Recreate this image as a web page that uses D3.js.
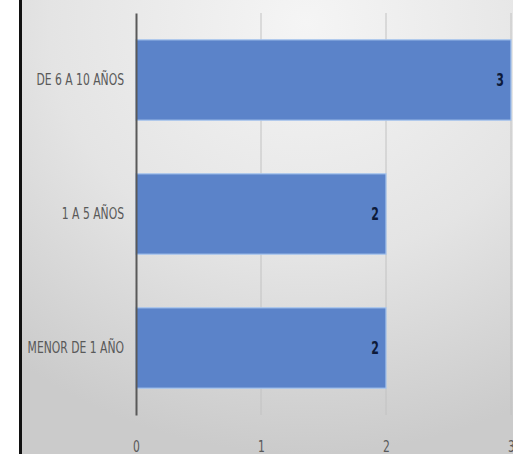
<!DOCTYPE html>
<html>
<head>
<meta charset="utf-8">
<script src="https://cdn.jsdelivr.net/npm/d3@7"></script>
<style>
  body { margin: 0; background: #fff; overflow: hidden; }
  text { font-family: "DejaVu Sans Condensed", "Liberation Sans", sans-serif; }
</style>
</head>
<body>
<svg width="513" height="454"></svg>
<script>
var categories = ["DE 6 A 10 AÑOS", "1 A 5 AÑOS", "MENOR DE 1 AÑO"];
var values = [3, 2, 2];
var xTicks = [0, 1, 2, 3];

var svg = d3.select("svg");
var margin = {"top": 13, "left": 136, "right": 2, "bottom": 39};
var width = +svg.attr("width") - margin.left - margin.right;
var height = +svg.attr("height") - margin.top - margin.bottom;
var squeeze = 0.8; // narrow text like the original's condensed font

// background gradient
var defs = svg.append("defs");
var grad = defs.append("radialGradient")
    .attr("id", "bg")
    .attr("cx", "0.58").attr("cy", "0.05").attr("r", "0.95");
grad.append("stop").attr("offset", "0").attr("stop-color", "#f5f5f5");
grad.append("stop").attr("offset", "0.55").attr("stop-color", "#e4e4e4");
grad.append("stop").attr("offset", "1").attr("stop-color", "#cbcbcb");

svg.append("rect")
    .attr("x", 21).attr("y", 0)
    .attr("width", 492).attr("height", 454)
    .attr("fill", "url(#bg)");
svg.append("rect")
    .attr("x", 19).attr("y", 0)
    .attr("width", 3).attr("height", 454)
    .attr("fill", "#111");

var x = d3.scaleLinear().domain([0, 3]).range([0, width]);
var y = d3.scaleBand().domain(categories).range([0, height])
    .paddingInner(0.4).paddingOuter(0.2);

var g = svg.append("g")
    .attr("transform", "translate(" + margin.left + "," + margin.top + ")");

// gridlines
g.selectAll(".grid").data(xTicks.slice(1))
  .enter().append("line")
    .attr("class", "grid")
    .attr("x1", function(d) { return x(d); })
    .attr("x2", function(d) { return x(d); })
    .attr("y1", 0).attr("y2", height)
    .attr("stroke", "#c2c2c2")
    .attr("stroke-width", 1);

// bars
g.selectAll(".bar").data(values)
  .enter().append("rect")
    .attr("class", "bar")
    .attr("x", 0)
    .attr("y", function(d, i) { return y(categories[i]); })
    .attr("width", function(d) { return x(d); })
    .attr("height", y.bandwidth())
    .attr("fill", "#5b83c9")
    .attr("stroke", "#a9c6ee")
    .attr("stroke-width", 1.2);

// value labels
g.selectAll(".val").data(values)
  .enter().append("g")
    .attr("transform", function(d, i) {
      return "translate(" + (x(d) - 7) + "," + (y(categories[i]) + y.bandwidth() / 2) + ")";
    })
  .append("text")
    .attr("class", "val")
    .attr("transform", "scale(0.72,1)")
    .attr("dy", "0.36em")
    .attr("text-anchor", "end")
    .attr("fill", "#0d1a3a")
    .attr("font-weight", "bold")
    .style("font-size", "17px")
    .text(function(d) { return d; });

// y axis
var yAxis = g.append("g")
    .call(d3.axisLeft(y).tickSize(0).tickPadding(12 / squeeze));
yAxis.select(".domain").attr("stroke", "#595959").attr("stroke-width", 2);
yAxis.selectAll("text")
    .attr("transform", "scale(" + squeeze + ",1)")
    .attr("fill", "#595959")
    .style("font-size", "15px");

// x axis
var xAxis = g.append("g")
    .attr("transform", "translate(0," + height + ")")
    .call(d3.axisBottom(x).tickValues(xTicks).tickSize(0).tickPadding(26).tickFormat(d3.format("d")));
xAxis.select(".domain").remove();
xAxis.selectAll("text")
    .attr("transform", "scale(" + squeeze + ",1)")
    .attr("fill", "#595959")
    .style("font-size", "15px");
</script>
</body>
</html>
